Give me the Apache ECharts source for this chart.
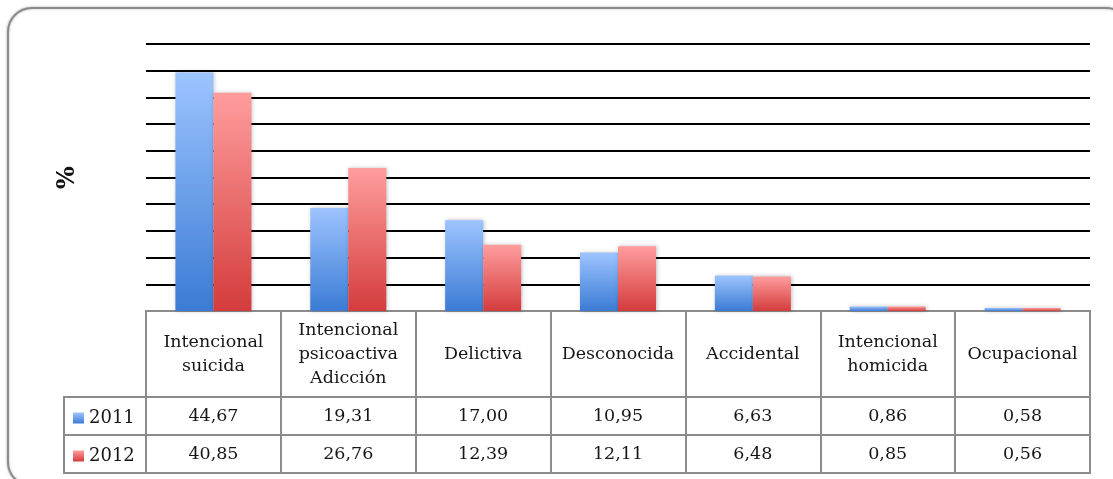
<!DOCTYPE html>
<html>
<head>
<meta charset="utf-8">
<script src="https://cdn.jsdelivr.net/npm/echarts@6/dist/echarts.min.js"></script>
<style>
  html, body { margin: 0; padding: 0; background: #ffffff; }
  #chart { width: 1113px; height: 479px; }
</style>
</head>
<body>
<div id="chart"></div>
<script>
// Causes (table header labels) and yearly percentages
const categories = [
  'Intencional\nsuicida',
  'Intencional\npsicoactiva\nAdicción',
  'Delictiva',
  'Desconocida',
  'Accidental',
  'Intencional\nhomicida',
  'Ocupacional'
];
const years = ['2011', '2012'];
const values2011 = [44.67, 19.31, 17.00, 10.95, 6.63, 0.86, 0.58];
const values2012 = [40.85, 26.76, 12.39, 12.11, 6.48, 0.85, 0.56];

const FONT = 'DejaVu Serif';
const TXT = '#161616';
const BORDER = '#8c8c8c';

const chart = echarts.init(document.getElementById('chart'), null, { renderer: 'canvas' });

function grad(top, bottom) {
  return new echarts.graphic.LinearGradient(0, 0, 0, 1, [
    { offset: 0, color: top },
    { offset: 1, color: bottom }
  ]);
}
const blue = grad('#9dc4ff', '#3b7bd4');
const red = grad('#ff9d9d', '#d43c3c');

const fmt = v => v.toFixed(2).replace('.', ',');

// cells of the value table: [category index, year, value]
const tableCells = [];
values2011.forEach((v, i) => tableCells.push([i, '2011', v]));
values2012.forEach((v, i) => tableCells.push([i, '2012', v]));

// zero line is the table's top border (grey); the rest are black
const gridSplitColors = ['#8c8c8c'].concat(new Array(10).fill('#000000'));

const option = {
  animation: false,
  backgroundColor: '#ffffff',
  textStyle: { fontFamily: FONT },
  graphic: [
    {
      type: 'rect', z: -10, silent: true,
      shape: { x: 8, y: 8, width: 1122, height: 478, r: 24 },
      style: { fill: '#ffffff', stroke: '#8a8a8a', lineWidth: 2,
               shadowBlur: 3, shadowColor: 'rgba(0,0,0,0.25)' }
    },
    {
      type: 'rect', z: 10, silent: true,
      shape: { x: 64, y: 397, width: 82, height: 76 },
      style: { fill: 'none', stroke: BORDER, lineWidth: 2 }
    },
    {
      type: 'line', z: 10, silent: true,
      shape: { x1: 64, y1: 435, x2: 146, y2: 435 },
      style: { stroke: BORDER, lineWidth: 2 }
    }
  ],
  legend: {
    data: years,
    orient: 'vertical',
    left: 68,
    top: 403,
    itemWidth: 11,
    itemHeight: 11,
    itemGap: 18,
    icon: 'rect',
    textStyle: { fontFamily: FONT, fontSize: 18, color: TXT, lineHeight: 20 }
  },
  grid: [
    { left: 146, right: 23, top: 44, height: 267 },
    { left: 146, right: 23, top: 311, height: 86, show: true, borderColor: BORDER, borderWidth: 2, backgroundColor: 'transparent' },
    { left: 146, right: 23, top: 397, height: 76, show: true, borderColor: BORDER, borderWidth: 2, backgroundColor: 'transparent' }
  ],
  xAxis: [
    {
      gridIndex: 0, type: 'category', data: categories,
      axisLine: { show: false }, axisTick: { show: false }, axisLabel: { show: false }
    },
    {
      gridIndex: 1, type: 'category', data: categories, position: 'bottom',
      axisLine: { show: false }, axisTick: { show: false },
      splitLine: { show: true, interval: 0, lineStyle: { color: BORDER, width: 2 } },
      axisLabel: {
        interval: 0, margin: -43, verticalAlign: 'middle', lineHeight: 24,
        fontFamily: FONT, fontSize: 17.5, color: TXT
      }
    },
    {
      gridIndex: 2, type: 'category', data: categories,
      axisLine: { show: false }, axisTick: { show: false }, axisLabel: { show: false },
      splitLine: { show: true, interval: 0, lineStyle: { color: BORDER, width: 2 } }
    }
  ],
  yAxis: [
    {
      gridIndex: 0, type: 'value', min: 0, max: 50, interval: 5,
      name: '%', nameLocation: 'middle', nameRotate: 90, nameGap: 66,
      nameTextStyle: { fontFamily: FONT, fontSize: 24, fontWeight: 'bold', color: '#111' },
      axisLine: { show: false }, axisTick: { show: false }, axisLabel: { show: false },
      splitLine: { show: true, lineStyle: { color: gridSplitColors, width: 2 } }
    },
    {
      gridIndex: 1, type: 'value', show: false
    },
    {
      gridIndex: 2, type: 'category', data: years, inverse: true,
      axisLine: { show: false }, axisTick: { show: false }, axisLabel: { show: false },
      splitLine: { show: true, interval: 0, lineStyle: { color: BORDER, width: 2 } }
    }
  ],
  series: [
    {
      name: '2011', type: 'bar', xAxisIndex: 0, yAxisIndex: 0,
      data: values2011, barWidth: 38, barGap: '0%',
      itemStyle: { color: blue, shadowBlur: 4, shadowColor: 'rgba(0,0,0,0.25)', shadowOffsetX: 1 }
    },
    {
      name: '2012', type: 'bar', xAxisIndex: 0, yAxisIndex: 0,
      data: values2012, barWidth: 38, barGap: '0%',
      itemStyle: { color: red, shadowBlur: 4, shadowColor: 'rgba(0,0,0,0.25)', shadowOffsetX: 1 }
    },
    {
      name: 'tabla', type: 'scatter', xAxisIndex: 2, yAxisIndex: 2,
      data: tableCells, symbolSize: 0, silent: true,
      itemStyle: { opacity: 1 },
      label: {
        show: true, position: 'inside', verticalAlign: 'middle', align: 'center',
        formatter: p => fmt(p.data[2]),
        fontFamily: FONT, fontSize: 17.5, color: TXT, opacity: 1,
        textBorderWidth: 0, textBorderColor: 'transparent'
      }
    }
  ]
};

chart.setOption(option);
</script>
</body>
</html>
